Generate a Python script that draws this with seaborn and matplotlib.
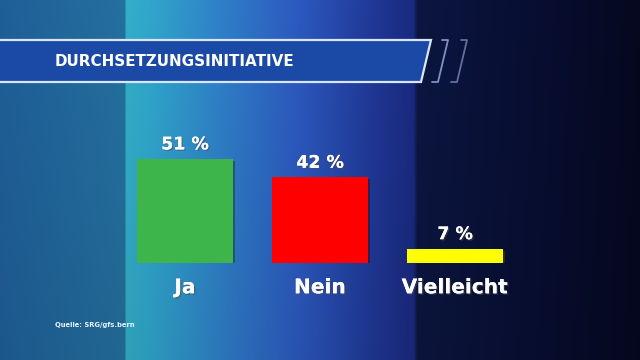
import numpy as np
import pandas as pd
import matplotlib
matplotlib.use("Agg")
import matplotlib.pyplot as plt
import matplotlib.patheffects as pe
from matplotlib.patches import Polygon
import seaborn as sns

# Daten
kategorien = ["Ja", "Nein", "Vielleicht"]
anteile = [51, 42, 7]
farben = ["#3db54a", "#ff0000", "#ffff00"]
titel = "DURCHSETZUNGSINITIATIVE"
quelle = "Quelle: SRG/gfs.bern"

sns.set_theme(style="white")
plt.rcParams["font.family"] = ["DejaVu Sans"]

W, H = 640, 360
fig = plt.figure(figsize=(6.4, 3.6), dpi=100)

# Hintergrund (horizontaler Verlauf wie im TV-Studio)
bg = fig.add_axes([0, 0, 1, 1])
stops_x = [0, 124, 126, 150, 220, 300, 380, 413, 417, 520, 640]
stops_c = ["#1f5f98", "#24709f", "#33aec8", "#30a6cc", "#2f80c8", "#2c58bf",
           "#1f3592", "#1a2a80", "#0c1640", "#080f34", "#05081f"]
rgb = np.array([matplotlib.colors.to_rgb(c) for c in stops_c])
xs = np.arange(W)
row = np.stack([np.interp(xs, stops_x, rgb[:, i]) for i in range(3)], axis=1)
# leichte vertikale Abdunkelung
shade = np.linspace(1.0, 0.92, H)[:, None, None]
img = row[None, :, :] * shade
bg.imshow(img, extent=(0, W, H, 0), aspect="auto")
bg.set_xlim(0, W)
bg.set_ylim(H, 0)
bg.axis("off")

# Titelbalken
balken = Polygon([(-5, 40), (431, 40), (421, 82), (-5, 82)], closed=True,
                 facecolor="#1b4aa6", edgecolor="#d8e6ff", linewidth=1.6)
bg.add_patch(balken)
for dx, a in [(17, 0.75), (36, 0.55)]:
    bg.plot([431 + dx - 6, 431 + dx, 421 + dx, 421 + dx - 6],
            [40, 40, 82, 82], color="#aabbee", alpha=a, linewidth=1.3)
bg.text(55, 62, titel, color="white", fontsize=10.9, fontweight="bold",
        va="center", ha="left")
bg.text(55, 325, quelle, color="#e8f2ff", fontsize=4.9, fontweight="bold",
        va="center", ha="left")

# Balkendiagramm
df = pd.DataFrame({"kategorie": kategorien, "anteil": anteile})
ax = fig.add_axes([117.5 / W, 97 / H, 405 / W, 122.4 / H])
sns.barplot(data=df, x="kategorie", y="anteil", hue="kategorie",
            palette=farben, width=0.71, legend=False, ax=ax,
            saturation=1, edgecolor="none")
ax.set_xlim(-0.5, 2.5)
ax.set_ylim(0, 60)
ax.patch.set_alpha(0)
sns.despine(ax=ax, left=True, bottom=True)
ax.set_yticks([])
ax.set_xlabel("")
ax.set_ylabel("")
ax.tick_params(axis="x", length=0, pad=11)
schatten = [pe.withSimplePatchShadow(offset=(1.5, -1.5), alpha=0.45), pe.Normal()]
for p in ax.patches:
    p.set_path_effects(schatten)
for lbl in ax.get_xticklabels():
    lbl.set_color("white")
    lbl.set_fontsize(14.5)
    lbl.set_fontweight("bold")
    lbl.set_path_effects([pe.withSimplePatchShadow(offset=(1, -1), alpha=0.5), pe.Normal()])

for i, v in enumerate(anteile):
    ax.annotate(f"{v} %", (i, v), xytext=(0, 4), textcoords="offset points",
                ha="center", va="bottom", color="white", fontsize=12.5,
                fontweight="bold",
                path_effects=[pe.withSimplePatchShadow(offset=(1, -1), alpha=0.5), pe.Normal()])

fig.savefig("out.png", dpi=100)
